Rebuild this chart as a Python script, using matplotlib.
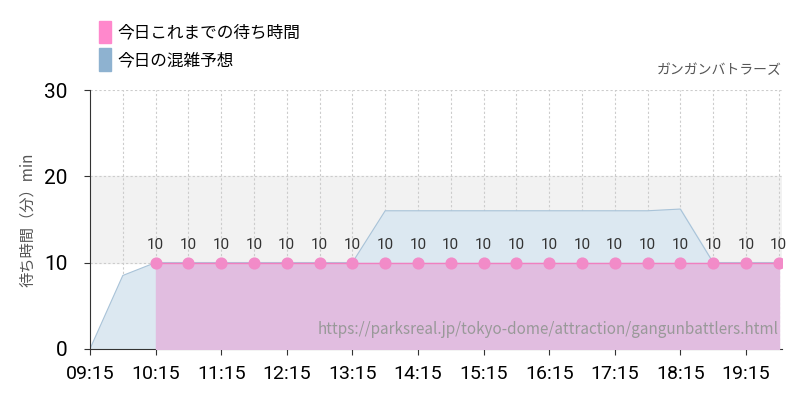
import matplotlib
matplotlib.use("Agg")
import matplotlib.pyplot as plt
import matplotlib.patches as mpatches
import numpy as np

plt.rcParams['font.family'] = ['Noto Sans CJK JP', 'DejaVu Sans']

# times as hours since 09:15
tick_labels = ["09:15", "10:15", "11:15", "12:15", "13:15", "14:15",
               "15:15", "16:15", "17:15", "18:15", "19:15"]
forecast_t = [0, 0.5, 1.0, 1.5, 2.0, 2.5, 3.0, 3.5, 4.0, 4.5, 5.0, 5.5,
              6.0, 6.5, 7.0, 7.5, 8.0, 8.5, 9.0, 9.5, 10.0, 10.5]
forecast_v = [0, 8.5, 10, 10, 10, 10, 10, 10, 10, 16, 16, 16,
              16, 16, 16, 16, 16, 16, 16.2, 10, 10, 10]
actual_t = [1.0, 1.5, 2.0, 2.5, 3.0, 3.5, 4.0, 4.5, 5.0, 5.5, 6.0, 6.5,
            7.0, 7.5, 8.0, 8.5, 9.0, 9.5, 10.0, 10.5]
actual_v = [10] * 20

fig = plt.figure(figsize=(8, 4), dpi=100)
ax = fig.add_axes([0.1125, 0.128, 0.865, 0.647])

ax.axhspan(10, 20, color='#f2f2f2', zorder=0)
ax.fill_between(forecast_t, forecast_v, color='#dce8f1', zorder=1)
ax.plot(forecast_t, forecast_v, color='#a9c3d8', lw=0.8, zorder=2)
ax.fill_between(actual_t, actual_v, color='#e1bde0', zorder=3)
ax.plot(actual_t, actual_v, color='#f080c0', lw=1, zorder=4)
ax.scatter(actual_t, actual_v, s=60, color='#f28bc8', zorder=5)
for t, v in zip(actual_t, actual_v):
    ax.text(t, v + 1.2, str(v), ha='center', va='bottom', fontsize=11,
            color='#333333', family='Roboto')

ax.set_xlim(0, 10.55)
ax.set_ylim(0, 30)
ax.set_xticks(range(11))
ax.set_xticklabels(tick_labels, family='Roboto', fontsize=14)
ax.set_yticks([0, 10, 20, 30])
ax.set_yticklabels(['0', '10', '20', '30'], family='Roboto', fontsize=15)
for x in np.arange(0.5, 10.6, 0.5):
    ax.axvline(x, color='#cccccc', ls=(0, (2, 2)), lw=0.8, zorder=0.5)
for y in [10, 20, 30]:
    ax.axhline(y, color='#cccccc', ls=(0, (2, 2)), lw=0.8, zorder=0.5)
for s in ['top', 'right']:
    ax.spines[s].set_visible(False)
ax.spines['left'].set_color('#333333')
ax.spines['bottom'].set_color('#333333')
ax.tick_params(axis='x', length=4, pad=8, color='#333333')
ax.tick_params(axis='y', length=4, pad=12, color='#333333')
ax.set_ylabel('待ち時間（分）min', fontsize=11, color='#555555', labelpad=6)

ax.text(10.55, 31.5, 'ガンガンバトラーズ', ha='right', va='bottom',
        fontsize=10, color='#555555')
ax.text(10.5, 1.2, 'https://parksreal.jp/tokyo-dome/attraction/gangunbattlers.html',
        ha='right', va='bottom', fontsize=11, color='#999999', zorder=6)

h1 = mpatches.Patch(color='#ff88cc')
h2 = mpatches.Patch(color='#8eb2d0')
fig.legend([h1, h2], ['今日これまでの待ち時間', '今日の混雑予想'],
           loc='upper left', bbox_to_anchor=(0.105, 0.985), frameon=False,
           fontsize=12, handlelength=0.7, handleheight=1.7, labelspacing=0.3,
           handletextpad=0.4)

fig.savefig('out.png')
